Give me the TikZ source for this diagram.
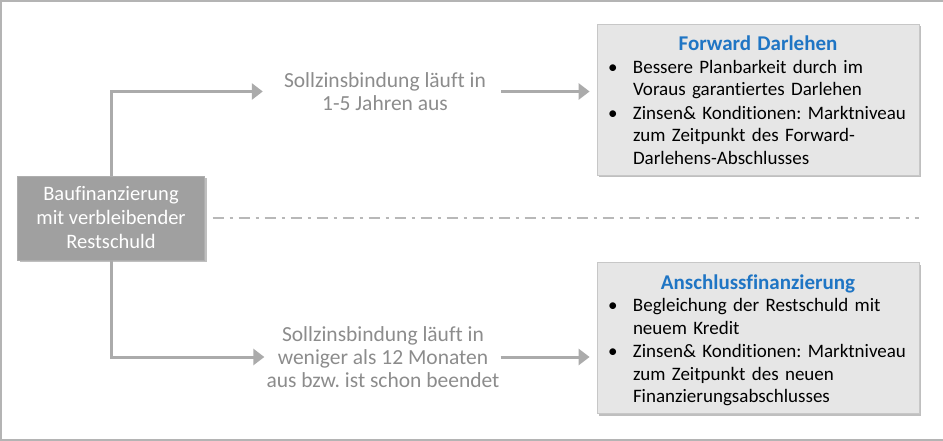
\documentclass[tikz,border=0pt]{standalone}
\usepackage{fontspec}
\setmainfont{Carlito}[Ligatures={NoCommon}]
\usetikzlibrary{arrows.meta,positioning,shadows}
\frenchspacing

\definecolor{framegray}{HTML}{B4B4B4}
\definecolor{linegray}{HTML}{ABABAB}
\definecolor{textgray}{HTML}{8C8C8C}
\definecolor{boxgray}{HTML}{A0A0A0}
\definecolor{panelgray}{HTML}{E6E6E6}
\definecolor{titleblue}{HTML}{1F75C4}

% bullet line
\newcommand{\pitem}[1]{\par\noindent\hspace*{11pt}\makebox[25pt][l]{\textbullet}\parbox[t]{284pt}{\strut#1\strut}}
% title line of a panel
\newcommand{\ptitle}[1]{{\centering\fontsize{21}{22.5}\selectfont\bfseries\color{titleblue}\rule{0pt}{23pt}#1\par}}

\tikzset{
  mainbox/.style={fill=boxgray, draw=boxgray!85, minimum width=187pt, minimum height=84pt,
    text=white, align=center, font=\fontsize{20.5}{24}\selectfont,
    drop shadow={shadow xshift=2pt, shadow yshift=-2pt, fill=black, opacity=.25}},
  panel/.style={fill=panelgray, draw=black!22, line width=0.8pt, minimum width=322pt,
    minimum height=151pt, inner xsep=0pt, inner ysep=0pt, text width=322pt, align=left,
    font=\fontsize{19}{22.5}\selectfont,
    drop shadow={shadow xshift=2pt, shadow yshift=-2pt, fill=black, opacity=.25}},
  midtext/.style={text=textgray, align=center, inner xsep=0pt, font=\fontsize{21.5}{23}\selectfont},
  arrowline/.style={linegray, line width=3pt},
  dashline/.style={linegray!85, line width=2pt, dash pattern=on 11pt off 6pt on 3pt off 6pt}
}

\begin{document}
\begin{tikzpicture}[x=1pt, y=-1pt, >={Triangle[length=11pt,width=16pt]}]
  \useasboundingbox (0,0) rectangle (943,441);
  % Rahmen
  \draw[framegray, line width=2pt] (943,1) -- (1,1) -- (1,440) -- (943,440);

  % Ausgangslage
  \node[mainbox] (bau) at (111,218) {Baufinanzierung\\mit verbleibender\\Restschuld};

  % Zielboxen
  \node[panel] (fwd) at (758,99.5) {\ptitle{Forward Darlehen}
    \pitem{Bessere Planbarkeit durch im\newline Voraus garantiertes Darlehen}
    \pitem{Zinsen\& Konditionen: Marktniveau\newline zum Zeitpunkt des Forward-\newline Darlehens-Abschlusses}};
  \node[panel] (ansch) at (758,338) {\ptitle{Anschlussfinanzierung}
    \pitem{Begleichung der Restschuld mit\newline neuem Kredit}
    \pitem{Zinsen\& Konditionen: Marktniveau\newline zum Zeitpunkt des neuen\newline Finanzierungsabschlusses}};

  % Bedingungen
  \node[midtext] (upLbl) at (385,91.5) {Sollzinsbindung läuft in\\1-5 Jahren aus};
  \node[midtext] (lowLbl) at (383,357) {Sollzinsbindung läuft in\\weniger als 12 Monaten\\aus bzw. ist schon beendet};

  % Pfeile
  \draw[arrowline, ->, shorten >=21pt] (bau.north) |- (upLbl.west);
  \draw[arrowline, ->, shorten <=15pt, shorten >=7pt] (upLbl.east) -- (upLbl.east -| fwd.west);
  \draw[arrowline, ->, shorten >=2pt] (bau.south) |- (lowLbl.west);
  \draw[arrowline, ->, shorten <=1pt, shorten >=7pt] (lowLbl.east) -- (lowLbl.east -| ansch.west);

  % Trennlinie
  \draw[dashline] ([xshift=8pt]bau.east) -- (bau.east -| fwd.east);
\end{tikzpicture}
\end{document}
